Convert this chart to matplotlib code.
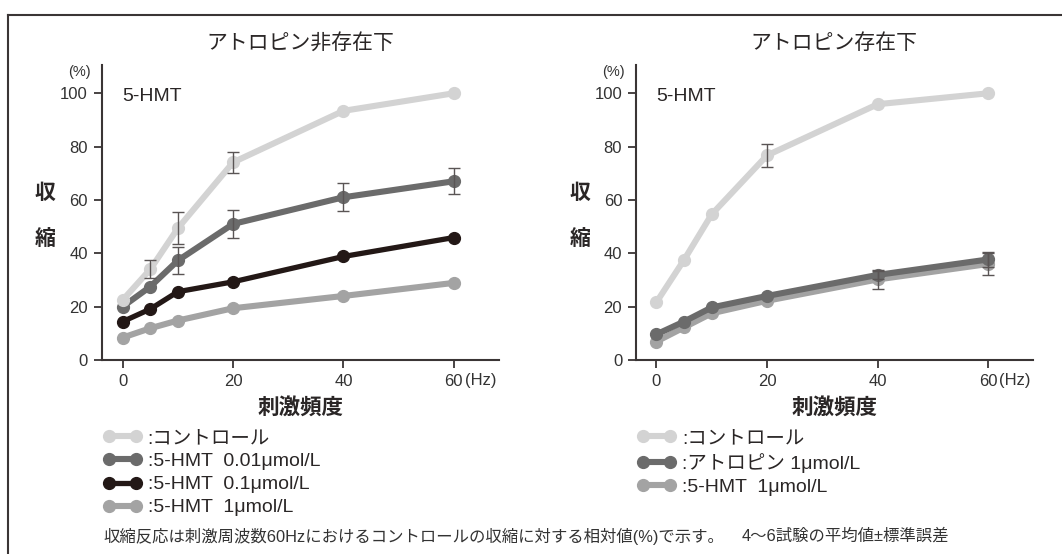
import numpy as np
import matplotlib
matplotlib.use("Agg")
import matplotlib.pyplot as plt
from matplotlib.lines import Line2D

plt.rcParams['font.family'] = ['Liberation Sans', 'Noto Sans CJK JP', 'DejaVu Sans']

# 刺激頻度 (Hz)
freq = [0, 5, 10, 20, 40, 60]

# アトロピン非存在下
ctrl_a = [22.5, 34, 49.4, 74.1, 93.4, 100]
ctrl_a_err = [0, 3.3, 6, 4, 0, 0]
hmt001_a = [20, 27.5, 37.3, 51, 61, 67]
hmt001_a_err = [0, 0, 5, 5.3, 5.2, 4.9]
hmt01_a = [14.4, 19.1, 25.6, 29.3, 38.8, 45.9]
hmt1_a = [8.4, 11.9, 14.8, 19.4, 24, 28.9]

# アトロピン存在下
ctrl_b = [21.6, 37.5, 54.6, 76.7, 95.9, 100]
ctrl_b_err = [0, 0, 0, 4.2, 0, 0]
atr_b = [9.6, 14.4, 19.7, 24, 31.9, 37.7]
atr_b_err = [0, 0, 0, 0, 1.5, 2.9]
hmt1_b = [6.9, 12.2, 17.5, 22.2, 30.2, 36]
hmt1_b_err = [0, 0, 0, 0, 3.7, 4.1]

yticks = [0, 20, 40, 60, 80, 100]
xticks = [0, 20, 40, 60]

C_CTRL = '#d3d3d3'
C_DARK = '#6b6b6b'
C_BLACK = '#231816'
C_MID = '#a3a3a3'
C_AXIS = '#3a3535'
C_ERR = '#5a5555'
C_TEXT = '#2a2626'

fig = plt.figure(figsize=(10.62, 5.54), dpi=100)


def series(ax, y, color, err=None, lw=4.4, ms=8.5, z=2):
    line, = ax.plot(freq, y, color=color, lw=lw, marker='o', ms=ms,
                    solid_capstyle='round', zorder=z)
    if err is not None:
        xs = [f for f, e in zip(freq, err) if e > 0]
        ys = [v for v, e in zip(y, err) if e > 0]
        es = [e for e in err if e > 0]
        ax.errorbar(xs, ys, yerr=es, fmt='none', ecolor=C_ERR, elinewidth=1,
                    capsize=4, capthick=1, zorder=10)
    return line


def setup(ax, title, xlim):
    ax.set_xlim(*xlim)
    ax.set_ylim(0, 110.6)
    for s in ['top', 'right']:
        ax.spines[s].set_visible(False)
    for s in ['left', 'bottom']:
        ax.spines[s].set_color(C_AXIS)
        ax.spines[s].set_linewidth(1.5)
    ax.set_yticks(yticks)
    ax.set_xticks(xticks)
    ax.set_xticklabels([str(t) for t in xticks])
    ax.tick_params(direction='out', length=6, width=1.3, color=C_AXIS,
                   labelsize=12, labelcolor='#333333', pad=4)
    ax.text(62.0, -5.0, '(Hz)', fontsize=12, color='#333333',
            ha='left', va='top')
    ax.text(-0.057, 0.976, '(%)', transform=ax.transAxes, fontsize=10.5,
            color='#333333', ha='center', va='center')
    ax.text(0.052, 0.893, '5-HMT', transform=ax.transAxes, fontsize=14,
            color=C_TEXT, ha='left', va='center')
    ax.text(0.5, 1.075, title, transform=ax.transAxes, fontsize=15,
            color=C_TEXT, ha='center', va='center')
    ax.text(-0.142, 0.565, '収', transform=ax.transAxes, fontsize=15,
            fontweight='bold', color=C_TEXT, ha='center', va='center')
    ax.text(-0.142, 0.41, '縮', transform=ax.transAxes, fontsize=15,
            fontweight='bold', color=C_TEXT, ha='center', va='center')
    ax.text(0.5, -0.165, '刺激頻度', transform=ax.transAxes, fontsize=15.5,
            fontweight='bold', color=C_TEXT, ha='center', va='center')


def legend(ax, handles, labels, x):
    leg = ax.legend(handles, labels, loc='upper left',
                    bbox_to_anchor=(x, 0.2245), bbox_transform=fig.transFigure,
                    frameon=False, numpoints=2, handlelength=2.0,
                    handletextpad=0.3, labelspacing=0.28, borderpad=0,
                    borderaxespad=0, fontsize=14)
    for t in leg.get_texts():
        t.set_color(C_TEXT)
    return leg


# 左: アトロピン非存在下
ax1 = fig.add_axes([0.0958, 0.3502, 0.3741, 0.5325])
setup(ax1, 'アトロピン非存在下', (-3.8, 68.2))
l4 = series(ax1, hmt1_a, C_MID, z=2)
l3 = series(ax1, hmt01_a, C_BLACK, lw=3.8, ms=8.5, z=3)
l2 = series(ax1, hmt001_a, C_DARK, err=hmt001_a_err, z=4)
l1 = series(ax1, ctrl_a, C_CTRL, err=ctrl_a_err, z=5)
legend(ax1, [l1, l2, l3, l4],
       [':コントロール', ':5-HMT  0.01μmol/L',
        ':5-HMT  0.1μmol/L', ':5-HMT  1μmol/L'], 0.097)

# 右: アトロピン存在下
ax2 = fig.add_axes([0.5989, 0.3502, 0.3735, 0.5325])
setup(ax2, 'アトロピン存在下', (-3.67, 68.0))
m3 = series(ax2, hmt1_b, C_MID, err=hmt1_b_err, z=2)
m2 = series(ax2, atr_b, C_DARK, err=atr_b_err, z=3)
m1 = series(ax2, ctrl_b, C_CTRL, err=ctrl_b_err, z=4)
legend(ax2, [m1, m2, m3],
       [':コントロール', ':アトロピン 1μmol/L', ':5-HMT  1μmol/L'], 0.6)

# 注記
fig.text(0.097, 1 - 536 / 554,
         '収縮反応は刺激周波数60Hzにおけるコントロールの収縮に対する相対値(%)で示す。',
         fontsize=11.8, color='#333333', ha='left', va='center')
fig.text(742 / 1062, 1 - 536 / 554, '4〜6試験の平均値±標準誤差',
         fontsize=11.8, color='#333333', ha='left', va='center')

# 外枠 (上辺と左辺)
fig.add_artist(Line2D([8 / 1062, 1], [1 - 15 / 554, 1 - 15 / 554],
                      transform=fig.transFigure, color=C_AXIS, lw=1.5))
fig.add_artist(Line2D([8 / 1062, 8 / 1062], [0, 1 - 15 / 554],
                      transform=fig.transFigure, color=C_AXIS, lw=1.5))

fig.savefig('out.png', dpi=100, facecolor='white')
